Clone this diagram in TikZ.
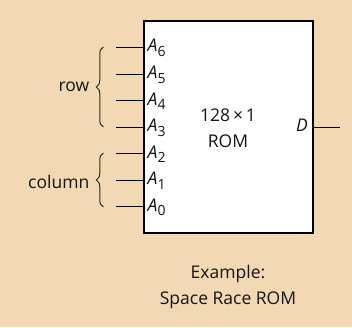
\documentclass[tikz,border=0pt]{standalone}
\usepackage{fontspec}
\setmainfont{Open Sans}
\usetikzlibrary{decorations.pathreplacing}
\definecolor{bg}{RGB}{242,217,179}
\definecolor{txt}{RGB}{20,20,20}
\newcommand{\sbs}[1]{\raisebox{-4.5pt}{\fontsize{14}{14}\selectfont #1}}
\begin{document}
\begin{tikzpicture}[x=1pt,y=-1pt,
  lbl/.style={font=\fontsize{17.5}{20}\selectfont, text=txt, inner sep=0pt},
  pin/.style={line width=1pt, draw=black},
  brc/.style={decorate, decoration={brace, amplitude=7pt}, line width=1pt, draw=txt!90}]
\fill[bg] (0,0) rectangle (352,327);
\useasboundingbox (0,0) rectangle (352,327);
\node[draw, line width=2pt, fill=white, minimum width=169pt, minimum height=212pt] (rom) at (228,127) {};
\node[lbl] (t1) at (228,115) {128\,×\,1};
\node[lbl] (t2) at (228,141.7) {ROM};
\foreach \i/\y in {6/47.3,5/74,4/100.5,3/127,2/153.5,1/180,0/206.7}{
  \coordinate (in\i) at (116,\y);
  \node[lbl, anchor=base west] (a\i) at (147.5,\y+4.5) {\textit{A}\sbs{\i}};
  \draw[pin] (in\i) -- (in\i -| rom.west);
}
\node[lbl, anchor=base east] (d) at (308,131.5) {\textit{D}};
\coordinate (out) at (340,127);
\draw[pin] (out -| rom.east) -- (out);
\coordinate (rb) at (103.3,127);
\coordinate (rt) at (103.3,47);
\coordinate (cb) at (103.3,207);
\coordinate (ct) at (103.3,153);
\draw[brc] (rb) -- (rt);
\draw[brc] (cb) -- (ct);
\node[lbl, anchor=east] (row) at (89.5,87) {row};
\node[lbl, anchor=east] (col) at (89.5,181.5) {column};
\node[lbl] (e1) at (228,274) {Example:};
\node[lbl] (e2) at (228,300) {Space Race ROM};
\end{tikzpicture}
\end{document}
